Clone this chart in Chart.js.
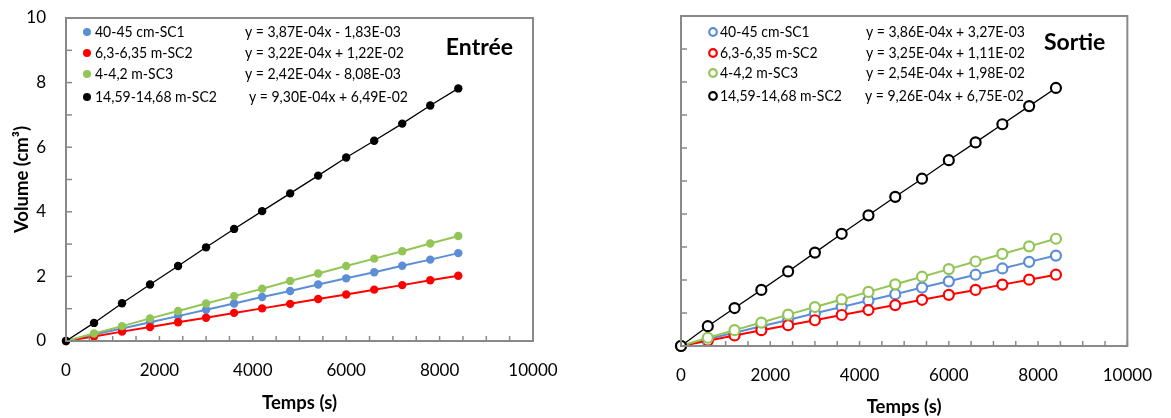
<!DOCTYPE html>
<html><head><meta charset="utf-8">
<script src="https://cdn.jsdelivr.net/npm/chart.js@4.4.1/dist/chart.umd.min.js"></script>
<style>
html,body{margin:0;padding:0;background:#fff;width:1171px;height:418px;overflow:hidden}
.box{position:absolute;top:0;height:418px}
#b1{left:0;width:590px}
#b2{left:590px;width:581px}
</style></head><body>
<div class="box" id="b1"><canvas id="c1" width="590" height="418"></canvas></div>
<div class="box" id="b2"><canvas id="c2" width="581" height="418"></canvas></div>
<script>
// ---- data ----
const times = [0,600,1200,1800,2400,3000,3600,4200,4800,5400,6000,6600,7200,7800,8400];
const seriesNames = ['40-45 cm-SC1','6,3-6,35 m-SC2','4-4,2 m-SC3','14,59-14,68 m-SC2'];
const seriesColors = ['#5B8ED6','#FF0000','#92C555','#000000'];

const entreeSC1  = [0,0.20,0.39,0.58,0.77,0.97,1.16,1.36,1.55,1.75,1.94,2.13,2.33,2.52,2.72];
const entreeSC2  = [0,0.14,0.29,0.43,0.58,0.72,0.87,1.01,1.15,1.30,1.44,1.59,1.73,1.88,2.02];
const entreeSC3  = [0,0.23,0.46,0.70,0.93,1.16,1.39,1.62,1.86,2.09,2.32,2.55,2.78,3.02,3.25];
const entreeSC2b = [0,0.56,1.17,1.75,2.32,2.90,3.47,4.02,4.57,5.12,5.68,6.20,6.73,7.29,7.82];

const sortieSC1  = [0,0.21,0.40,0.60,0.79,0.99,1.18,1.38,1.57,1.77,1.96,2.16,2.35,2.55,2.74];
const sortieSC2  = [0,0.16,0.32,0.48,0.63,0.78,0.94,1.09,1.24,1.40,1.55,1.70,1.86,2.01,2.16];
const sortieSC3  = [0,0.25,0.48,0.71,0.95,1.18,1.41,1.64,1.87,2.10,2.33,2.56,2.79,3.02,3.25];
const sortieSC2b = [0,0.60,1.15,1.70,2.26,2.83,3.40,3.96,4.52,5.07,5.63,6.17,6.72,7.27,7.82];

const equationsEntree = ['y = 3,87E-04x - 1,83E-03','y = 3,22E-04x + 1,22E-02','y = 2,42E-04x - 8,08E-03','y = 9,30E-04x + 6,49E-02'];
const equationsSortie = ['y = 3,86E-04x + 3,27E-03','y = 3,25E-04x + 1,11E-02','y = 2,54E-04x + 1,98E-02','y = 9,26E-04x + 6,75E-02'];

const xTickValues = [0,2000,4000,6000,8000,10000];
const yTickValues = [0,2,4,6,8,10];
const titles = ['Entrée','Sortie'];
const xTitle = 'Temps (s)';
const yTitle = 'Volume (cm³)';

// ---- drawing ----
const FONT = 'Lato, "Open Sans", sans-serif';
const AXIS_COLOR = '#898989';
const CONDENSE = 0.875;

function mkDatasets(arrs, hollow){
  return arrs.map((a,i)=>({
    label: seriesNames[i],
    data: times.map((t,j)=>({x:t,y:a[j]})),
    borderColor: seriesColors[i],
    backgroundColor: hollow ? '#ffffff' : seriesColors[i],
    pointBackgroundColor: hollow ? '#ffffff' : seriesColors[i],
    pointBorderColor: seriesColors[i],
    pointRadius: hollow ? 5 : 4.2,
    pointBorderWidth: hollow ? 2.2 : 0,
    borderWidth: i===3 ? 1.3 : 2,
    tension: 0,
    clip: false,
    order: i===3 ? 0 : 4-i
  }));
}

function condensedText(ctx, text, x, y){
  ctx.save();
  ctx.translate(x, y);
  ctx.scale(CONDENSE, 1);
  ctx.fillText(text, 0, 0);
  ctx.restore();
}

const decoPlugin = {
  id:'deco',
  afterDraw(chart){
    const ctx = chart.ctx, a = chart.chartArea;
    ctx.save();
    ctx.strokeStyle = AXIS_COLOR; ctx.lineWidth = 1.5;
    const xs = chart.scales.x, ys = chart.scales.y;
    xs.ticks.forEach((t,i)=>{
      const px = xs.getPixelForTick(i);
      ctx.beginPath(); ctx.moveTo(px,a.bottom); ctx.lineTo(px,a.bottom-5); ctx.stroke();
    });
    ys.ticks.forEach((t,i)=>{
      const py = ys.getPixelForTick(i);
      ctx.beginPath(); ctx.moveTo(a.left,py); ctx.lineTo(a.left+6,py); ctx.stroke();
    });
    ctx.lineWidth = 2;
    ctx.strokeRect(a.left, a.top, a.right-a.left, a.bottom-a.top);
    ctx.restore();
  },
  afterDatasetsDraw(chart){
    const o = chart.options.plugins.deco;
    const ctx = chart.ctx, a = chart.chartArea;
    ctx.save();
    ctx.textBaseline = 'middle';
    ctx.textAlign = 'left';
    o.rows.forEach((dy,i)=>{
      const y = a.top + dy;
      const mx = a.left + o.markerX;
      ctx.beginPath();
      ctx.arc(mx, y, o.hollow ? 3.8 : 4, 0, Math.PI*2);
      if (o.hollow){ ctx.lineWidth = 2.2; ctx.strokeStyle = seriesColors[i]; ctx.fillStyle='#fff'; ctx.fill(); ctx.stroke(); }
      else { ctx.fillStyle = seriesColors[i]; ctx.fill(); }
      ctx.fillStyle = '#000';
      ctx.font = '16px ' + FONT;
      condensedText(ctx, seriesNames[i], a.left + o.textX, y);
      condensedText(ctx, o.eqs[i], a.left + o.eqX[i], y);
    });
    ctx.font = 'bold 23px ' + FONT;
    ctx.textAlign = 'right';
    ctx.fillText(o.title, a.right - o.titleRight, a.top + o.titleY);
    ctx.restore();
  }
};

function makeChart(id, arrs, cfg){
  const canvas = document.getElementById(id);
  return new Chart(canvas, {
    type:'line',
    data:{ datasets: mkDatasets(arrs, cfg.hollow) },
    options:{
      responsive:false, animation:false, devicePixelRatio:1,
      layout:{ padding:{ left:0, top:cfg.area.top, right:canvas.width - cfg.area.right, bottom:0 } },
      plugins:{ legend:{display:false}, tooltip:{enabled:false},
        deco:{ hollow:cfg.hollow, rows:cfg.rows, markerX:cfg.markerX, textX:cfg.textX, eqX:cfg.eqX, eqs:cfg.eqs,
               title:cfg.title, titleRight:cfg.titleRight, titleY:cfg.titleY } },
      scales:{
        x:{ type:'linear', min:0, max:10000,
            grid:{display:false, drawTicks:false}, border:{display:false},
            ticks:{ stepSize:500, autoSkip:false, maxRotation:0, padding:cfg.xTickPad, color:'#000',
                    font:{family:FONT, size:17},
                    callback:v=> xTickValues.includes(v) ? String(v) : '' },
            title:{ display:true, text:xTitle, color:'#000', font:{family:FONT, size:18.5, weight:'bold'},
                    padding:{top:0,bottom:cfg.xTitlePad} },
            afterFit:s=>{ s.height = canvas.height - cfg.area.bottom; } },
        y:{ type:'linear', min:0, max:10,
            grid:{display:false, drawTicks:false}, border:{display:false},
            ticks:{ stepSize:1, autoSkip:false, padding:20, color:'#000',
                    font:{family:FONT, size:17},
                    callback:v=> (cfg.yLabels && yTickValues.includes(v)) ? String(v) : '' },
            title:{ display:cfg.yLabels, text:yTitle, color:'#000', font:{family:FONT, size:18.5, weight:'bold'},
                    padding:{top:11,bottom:0} },
            afterFit:s=>{ s.width = cfg.area.left; s.paddingTop = 0; s.paddingBottom = 0; } }
      }
    },
    plugins:[decoPlugin]
  });
}

makeChart('c1', [entreeSC1, entreeSC2, entreeSC3, entreeSC2b], {
  hollow:false, yLabels:true,
  area:{left:66, top:18, right:533, bottom:341},
  xTickPad:19, xTitlePad:4,
  rows:[14,35,56,79], markerX:21, textX:29, eqX:[179,179,179,183], eqs:equationsEntree,
  title:titles[0], titleRight:20, titleY:30
});
makeChart('c2', [sortieSC1, sortieSC2, sortieSC3, sortieSC2b], {
  hollow:true, yLabels:false,
  area:{left:91, top:16, right:549, bottom:346},
  xTickPad:19, xTitlePad:0,
  rows:[16,37,57,80], markerX:32, textX:39, eqX:[185,185,185,184], eqs:equationsSortie,
  title:titles[1], titleRight:22, titleY:27
});
</script>
</body></html>
